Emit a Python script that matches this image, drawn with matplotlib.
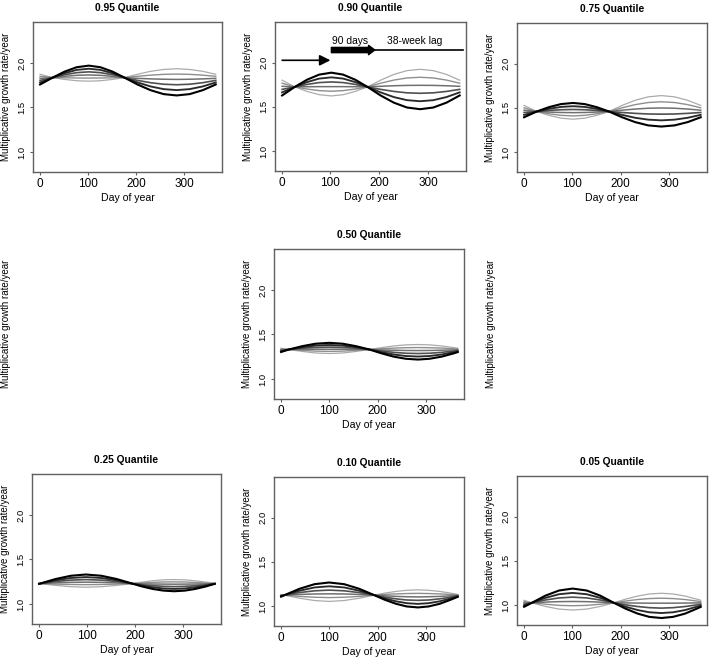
import matplotlib.pyplot as plt

plt.rcParams['font.family'] = ['Liberation Sans', 'DejaVu Sans']

# day of year at which the curves were read, per panel
days_top = [1, 27, 52, 77, 102, 126, 151, 176, 203, 230, 257, 284, 311, 338, 365]
days_50 = [1, 17, 45, 72, 100, 128, 155, 183, 208, 233, 258, 283, 307, 332, 357, 365]
days_25 = [1, 3, 35, 67, 98, 130, 162, 194, 215, 237, 259, 281, 303, 324, 346, 365]
days_10 = [1, 8, 39, 70, 100, 131, 162, 193, 215, 238, 260, 283, 305, 328, 350, 365]
days_05 = [1, 17, 45, 73, 101, 130, 158, 186, 210, 235, 259, 284, 308, 333, 357, 365]

# growth rate curves, lightest line first, darkest last
q95 = [
    [1.873, 1.835, 1.815, 1.800, 1.795, 1.800, 1.815, 1.835, 1.873, 1.906, 1.927, 1.935, 1.927, 1.906, 1.873],
    [1.850, 1.835, 1.833, 1.831, 1.830, 1.831, 1.833, 1.835, 1.850, 1.863, 1.872, 1.875, 1.872, 1.863, 1.850],
    [1.827, 1.835, 1.850, 1.861, 1.865, 1.861, 1.850, 1.835, 1.827, 1.821, 1.817, 1.815, 1.817, 1.821, 1.827],
    [1.804, 1.835, 1.868, 1.891, 1.900, 1.891, 1.868, 1.835, 1.804, 1.778, 1.761, 1.755, 1.761, 1.778, 1.804],
    [1.781, 1.835, 1.885, 1.922, 1.935, 1.922, 1.885, 1.835, 1.781, 1.736, 1.706, 1.695, 1.706, 1.736, 1.781],
    [1.758, 1.835, 1.903, 1.952, 1.970, 1.952, 1.903, 1.835, 1.758, 1.694, 1.650, 1.635, 1.650, 1.694, 1.758],
]
q90 = [
    [1.802, 1.726, 1.675, 1.638, 1.624, 1.638, 1.675, 1.726, 1.802, 1.867, 1.910, 1.925, 1.910, 1.867, 1.802],
    [1.768, 1.726, 1.702, 1.684, 1.677, 1.684, 1.702, 1.726, 1.768, 1.803, 1.827, 1.835, 1.827, 1.803, 1.768],
    [1.733, 1.726, 1.728, 1.729, 1.729, 1.729, 1.728, 1.726, 1.733, 1.739, 1.743, 1.744, 1.743, 1.739, 1.733],
    [1.698, 1.726, 1.754, 1.775, 1.782, 1.775, 1.754, 1.726, 1.698, 1.675, 1.659, 1.654, 1.659, 1.675, 1.698],
    [1.664, 1.726, 1.780, 1.820, 1.834, 1.820, 1.780, 1.726, 1.664, 1.611, 1.576, 1.564, 1.576, 1.611, 1.664],
    [1.629, 1.726, 1.807, 1.865, 1.887, 1.865, 1.807, 1.726, 1.629, 1.548, 1.493, 1.474, 1.493, 1.548, 1.629],
]
q75 = [
    [1.528, 1.459, 1.416, 1.384, 1.372, 1.384, 1.416, 1.459, 1.528, 1.586, 1.625, 1.639, 1.625, 1.586, 1.528],
    [1.501, 1.459, 1.434, 1.416, 1.409, 1.416, 1.434, 1.459, 1.501, 1.537, 1.561, 1.569, 1.561, 1.537, 1.501],
    [1.474, 1.459, 1.453, 1.448, 1.446, 1.448, 1.453, 1.459, 1.474, 1.487, 1.496, 1.499, 1.496, 1.487, 1.474],
    [1.448, 1.459, 1.471, 1.479, 1.482, 1.479, 1.471, 1.459, 1.448, 1.438, 1.431, 1.429, 1.431, 1.438, 1.448],
    [1.421, 1.459, 1.489, 1.511, 1.519, 1.511, 1.489, 1.459, 1.421, 1.388, 1.367, 1.359, 1.367, 1.388, 1.421],
    [1.394, 1.459, 1.508, 1.543, 1.556, 1.543, 1.508, 1.459, 1.394, 1.339, 1.302, 1.289, 1.302, 1.339, 1.394],
]
q50 = [
    [1.345, 1.331, 1.309, 1.292, 1.286, 1.292, 1.309, 1.331, 1.352, 1.371, 1.383, 1.387, 1.383, 1.371, 1.352, 1.346],
    [1.337, 1.331, 1.321, 1.313, 1.310, 1.313, 1.321, 1.331, 1.339, 1.347, 1.351, 1.353, 1.351, 1.347, 1.339, 1.337],
    [1.328, 1.331, 1.333, 1.334, 1.334, 1.334, 1.333, 1.331, 1.326, 1.323, 1.320, 1.319, 1.320, 1.323, 1.326, 1.328],
    [1.320, 1.331, 1.345, 1.354, 1.358, 1.354, 1.345, 1.331, 1.314, 1.299, 1.289, 1.286, 1.289, 1.299, 1.314, 1.319],
    [1.311, 1.331, 1.357, 1.375, 1.382, 1.375, 1.357, 1.331, 1.301, 1.275, 1.258, 1.252, 1.258, 1.275, 1.301, 1.310],
    [1.303, 1.331, 1.369, 1.396, 1.406, 1.396, 1.369, 1.331, 1.288, 1.251, 1.227, 1.218, 1.227, 1.251, 1.288, 1.302],
]
q25 = [
    [1.231, 1.229, 1.209, 1.194, 1.188, 1.194, 1.209, 1.229, 1.246, 1.261, 1.271, 1.274, 1.271, 1.261, 1.246, 1.231],
    [1.230, 1.229, 1.223, 1.219, 1.217, 1.219, 1.223, 1.229, 1.236, 1.242, 1.247, 1.248, 1.247, 1.242, 1.236, 1.230],
    [1.229, 1.229, 1.237, 1.243, 1.245, 1.243, 1.237, 1.229, 1.226, 1.224, 1.223, 1.222, 1.223, 1.224, 1.226, 1.229],
    [1.228, 1.229, 1.252, 1.268, 1.274, 1.268, 1.252, 1.229, 1.216, 1.205, 1.198, 1.195, 1.198, 1.205, 1.216, 1.228],
    [1.227, 1.229, 1.266, 1.292, 1.302, 1.292, 1.266, 1.229, 1.206, 1.187, 1.174, 1.169, 1.174, 1.187, 1.206, 1.227],
    [1.226, 1.229, 1.280, 1.317, 1.331, 1.317, 1.280, 1.229, 1.196, 1.168, 1.150, 1.143, 1.150, 1.168, 1.196, 1.226],
]
q10 = [
    [1.131, 1.124, 1.089, 1.063, 1.053, 1.063, 1.089, 1.124, 1.147, 1.166, 1.179, 1.184, 1.179, 1.166, 1.147, 1.132],
    [1.126, 1.124, 1.110, 1.100, 1.096, 1.100, 1.110, 1.124, 1.132, 1.138, 1.142, 1.144, 1.142, 1.138, 1.132, 1.127],
    [1.122, 1.124, 1.132, 1.137, 1.139, 1.137, 1.132, 1.124, 1.116, 1.110, 1.106, 1.104, 1.106, 1.110, 1.116, 1.121],
    [1.117, 1.124, 1.153, 1.173, 1.181, 1.173, 1.153, 1.124, 1.101, 1.082, 1.069, 1.065, 1.069, 1.082, 1.101, 1.116],
    [1.112, 1.124, 1.174, 1.211, 1.224, 1.211, 1.174, 1.124, 1.086, 1.054, 1.033, 1.025, 1.033, 1.054, 1.086, 1.110],
    [1.107, 1.124, 1.196, 1.248, 1.267, 1.248, 1.196, 1.124, 1.071, 1.026, 0.996, 0.985, 0.996, 1.026, 1.071, 1.105],
]
q05 = [
    [1.054, 1.026, 0.985, 0.955, 0.944, 0.955, 0.985, 1.026, 1.067, 1.102, 1.126, 1.134, 1.126, 1.102, 1.067, 1.055],
    [1.040, 1.026, 1.010, 0.997, 0.993, 0.997, 1.010, 1.026, 1.046, 1.063, 1.074, 1.078, 1.074, 1.063, 1.046, 1.040],
    [1.025, 1.026, 1.034, 1.039, 1.041, 1.039, 1.034, 1.026, 1.025, 1.023, 1.022, 1.022, 1.022, 1.023, 1.025, 1.025],
    [1.010, 1.026, 1.058, 1.081, 1.090, 1.081, 1.058, 1.026, 1.003, 0.984, 0.971, 0.966, 0.971, 0.984, 1.003, 1.010],
    [0.996, 1.026, 1.082, 1.123, 1.138, 1.123, 1.082, 1.026, 0.982, 0.944, 0.919, 0.910, 0.919, 0.944, 0.982, 0.995],
    [0.981, 1.026, 1.107, 1.165, 1.187, 1.165, 1.107, 1.026, 0.960, 0.904, 0.867, 0.854, 0.867, 0.904, 0.960, 0.980],
]

titles = ["0.95 Quantile", "0.90 Quantile", "0.75 Quantile", "0.50 Quantile",
          "0.25 Quantile", "0.10 Quantile", "0.05 Quantile"]
all_days = [days_top, days_top, days_top, days_50, days_25, days_10, days_05]
all_curves = [q95, q90, q75, q50, q25, q10, q05]

x_ticks = [0, 100, 200, 300]
y_ticks = [1.0, 1.5, 2.0]
y_ticklabels = ["1.0", "1.5", "2.0"]

shades = ["#ababab", "#8e8e8e", "#707070", "#505050", "#2a2a2a", "#000000"]
widths = [0.9, 1.0, 1.1, 1.2, 1.35, 1.5]

W, H = 709, 659
# panel boxes in pixels: left, right, top, bottom
boxes = [(33, 222, 22, 172), (275, 466, 22, 171), (517, 707, 23, 172),
         (274, 464, 249, 399),
         (32, 221, 474, 624), (274, 464, 477, 626), (517, 707, 476, 625)]

ylab = "Multiplicative growth rate/year"
frame = "#606060"

fig = plt.figure(figsize=(W / 100, H / 100), dpi=100)

for title, days, curves, (l, r, t, b) in zip(titles, all_days, all_curves, boxes):
    ax = fig.add_axes([l / W, 1 - b / H, (r - l) / W, (b - t) / H])
    for k, ys in enumerate(curves):
        ax.plot(days, ys, color=shades[k], lw=widths[k], solid_joinstyle="round")
    ax.set_xlim(-13.6, 378)
    ax.set_ylim(0.775, 2.46)
    ax.set_xticks(x_ticks)
    ax.set_yticks(y_ticks)
    ax.set_yticklabels(y_ticklabels, rotation=90, va="center")
    ax.tick_params(axis="x", length=2.5, width=0.8, color=frame, pad=1.5, labelsize=8.5)
    ax.tick_params(axis="y", length=2.5, width=0.8, color=frame, pad=2.5, labelsize=6.8)
    for s in ax.spines.values():
        s.set_color(frame)
        s.set_linewidth(1.0)
    ax.set_title(title, fontsize=7.4, fontweight="bold", pad=8)
    ax.set_xlabel("Day of year", fontsize=7.6, labelpad=2.5)
    ax.set_ylabel(ylab, fontsize=7.0, labelpad=4.5)

    if title == "0.90 Quantile":
        ax.annotate("", xy=(100, 2.027), xytext=(1, 2.027),
                    arrowprops=dict(arrowstyle="-|>", mutation_scale=16, lw=1.2,
                                    color="black", shrinkA=0, shrinkB=0))
        ax.annotate("", xy=(191, 2.143), xytext=(102, 2.143),
                    arrowprops=dict(arrowstyle="simple,head_length=0.5,head_width=0.75,tail_width=0.42",
                                    mutation_scale=9, color="black", shrinkA=0, shrinkB=0))
        ax.plot([189, 371], [2.143, 2.143], color="black", lw=1.2)
        ax.text(140, 2.245, "90 days", fontsize=7.4, ha="center", va="center")
        ax.text(272, 2.245, "38-week lag", fontsize=7.4, ha="center", va="center")

# empty panels on the middle row carry only the axis label
fig.text(6 / W, 1 - 324 / H, ylab, rotation=90, fontsize=7.0, ha="center", va="center")
fig.text(491 / W, 1 - 324 / H, ylab, rotation=90, fontsize=7.0, ha="center", va="center")

fig.savefig("out.png", dpi=100)
